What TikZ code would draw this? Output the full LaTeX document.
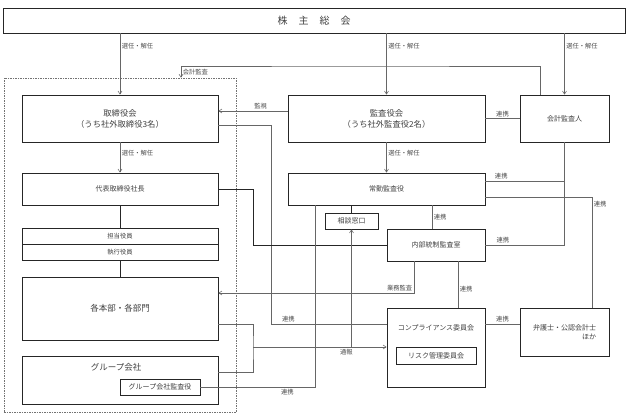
\documentclass[tikz,border=0pt]{standalone}
\usepackage{fontspec}
\newfontfamily\jp{Noto Sans CJK JP}
\usetikzlibrary{arrows.meta}

\begin{document}
\begin{tikzpicture}[x=1pt,y=-1pt,>={Straight Barb[length=3pt,width=4pt]},
	box/.style 2 args={draw=black!85, line width=0.9pt, minimum width=#1, minimum height=#2, inner sep=0pt, align=center, text=black!75, font=\jp\fontsize{7}{9}\selectfont},
	thinbox/.style 2 args={box={#1}{#2}, line width=0.5pt},
	big/.style={font=\jp\fontsize{8.3}{11}\selectfont},
	mid/.style={font=\jp\fontsize{8.5}{10}\selectfont},
	link/.style={draw=black!60, line width=0.55pt},
	lbl/.style={font=\jp\fontsize{6.3}{7}\selectfont, text=black!70, inner sep=1.5pt},
	frame/.style={draw=black!55, line width=0.6pt, dash pattern=on 1.5pt off 1pt, minimum width=232, minimum height=334}]
		\useasboundingbox (0,0) rectangle (629,416);
		\node[frame] (grp) at (120,245) {};
		
		\node[box={622}{25}, font=\jp\fontsize{10}{12}\selectfont] (sh) at (314,20.5) {株\hspace{1.1em}主\hspace{1.1em}総\hspace{1.1em}会};
		\node[box={196}{47}, big] (tor) at (120,118.5) {取締役会\\（うち社外取締役3名）};
		\node[box={196}{32}] (pres) at (120,189) {代表取締役社長};
		\node[box={196}{16}, font=\jp\fontsize{6.3}{7}\selectfont] (tanto) at (120,236) {担当役員};
		\node[box={196}{16}, font=\jp\fontsize{6.3}{7}\selectfont] (shikko) at (120,252) {執行役員};
		\node[box={196}{63}, mid] (bumon) at (120,308.5) {各本部・各部門};
		\node[box={196}{48}] (grpco) at (120,380) {};
		\node[mid, text=black!75] (grpt) at (116,367) {グループ会社};
		\node[thinbox={80}{16}] (gkansa) at (160,387) {グループ会社監査役};
		
		\node[box={197}{47}, big] (kansa) at (386.5,118.5) {監査役会\\（うち社外監査役2名）};
		\node[box={89}{47}] (kaikei) at (564.5,118.5) {会計監査人};
		\node[box={197}{32}] (joukin) at (386.5,189) {常勤監査役};
		\node[box={53}{16}] (soudan) at (351.5,221) {相談窓口};
		\node[box={98}{32}] (naibu) at (436,245) {内部統制監査室};
		\node[box={98}{79}] (comp) at (436,347.5) {};
		\node[text=black!75, font=\jp\fontsize{7}{9}\selectfont] (compt) at (436,328) {コンプライアンス委員会};
		\node[thinbox={80}{17}] (risk) at (436,355.5) {リスク管理委員会};
		\node[box={89}{48}, align=right] (bengo) at (564.5,332) {弁護士・公認会計士\\ほか};
		
		\coordinate (kk) at (360,66);
		\coordinate (r1) at (271,324);
		\coordinate (r2) at (253,189);
		\coordinate (t1) at (253,347);
		\coordinate (j1) at ([yshift=8pt]joukin.east);
		\coordinate (j2) at ([yshift=-8pt]joukin.east);
		\coordinate (j3) at ([xshift=-71.5pt]joukin.south);
		\coordinate (n1) at ([xshift=-4pt]naibu.north);
		\coordinate (n2) at ([xshift=-22pt]naibu.south);
		\coordinate (n3) at ([xshift=22pt]naibu.south);
		\coordinate (c2) at ([yshift=23.5pt]comp.east);
		
		\draw[link,->] (sh.south -| tor.north) -- node[lbl, right, pos=0.2] {選任・解任} (tor.north);
		\draw[link,->] (sh.south -| kansa.north) -- node[lbl, right, pos=0.2] {選任・解任} (kansa.north);
		\draw[link,->] (sh.south -| kaikei.north) -- node[lbl, right, pos=0.2] {選任・解任} (kaikei.north);
		\draw[link,->] ([xshift=-24.5pt]kaikei.north) |- (kk) -| node[lbl, right, pos=0.75] {会計監査} ([xshift=61pt]grp.north);
		\draw[link,->] (tor.south) -- node[lbl, right, pos=0.35] {選任・解任} (pres.north);
		\draw[link,->] (kansa.south) -- node[lbl, right, pos=0.35] {選任・解任} (joukin.north);
		\draw[link,->] ([yshift=7.5pt]kansa.west) -- node[lbl, above, pos=0.39] {監視} ([yshift=7.5pt]tor.east);
		\draw[link] (kansa.east) -- node[lbl, above] {連携} (kaikei.west);
		\draw[link] ([yshift=-6.5pt]tor.east) -| (r1) -- node[lbl, above, pos=0.15] {連携} (r1 -| comp.west);
		\draw[line width=0.9pt, draw=black!85] (pres.east) -- (r2) |- (naibu.west);
		\draw[line width=0.9pt, draw=black!85] (pres.south) -- (tanto.north);
		\draw[line width=0.9pt, draw=black!85] (shikko.south) -- (bumon.north);
		\draw[link] (kaikei.south) |- node[lbl, above, pos=0.89] {連携} (naibu.east);
		\draw[link] (j1) -- node[lbl, above, pos=0.2] {連携} (j1 -| kaikei.south);
		\draw[link] (j2) -| node[lbl, right, pos=0.53] {連携} ([xshift=27.5pt]bengo.north);
		\draw[line width=0.9pt, draw=black!85] (soudan.north) -- (soudan.north |- joukin.south);
		\draw[link] (n1 |- joukin.south) -- node[lbl, right] {連携} (n1);
		\draw[link] (j3) |- node[lbl, below, pos=0.62] {連携} (gkansa.east);
		\draw[link,->] (n2) |- node[lbl, above left, pos=0.5] {業務監査} ([yshift=15.5pt]bumon.east);
		\draw[link] (n3) -- node[lbl, right, pos=0.6] {連携} (n3 |- comp.north);
		\draw[link] (c2) -- node[lbl, above] {連携} (c2 -| bengo.west);
		\draw[link] ([yshift=-15.5pt]bumon.east) -| (t1) |- ([yshift=8pt]grpco.east);
		\draw[link,->] (t1) -- node[lbl, below, pos=0.7] {通報} (t1 -| comp.west);
		\draw[link,->] (t1 -| soudan.south) -- (soudan.south);
\end{tikzpicture}
\end{document}
